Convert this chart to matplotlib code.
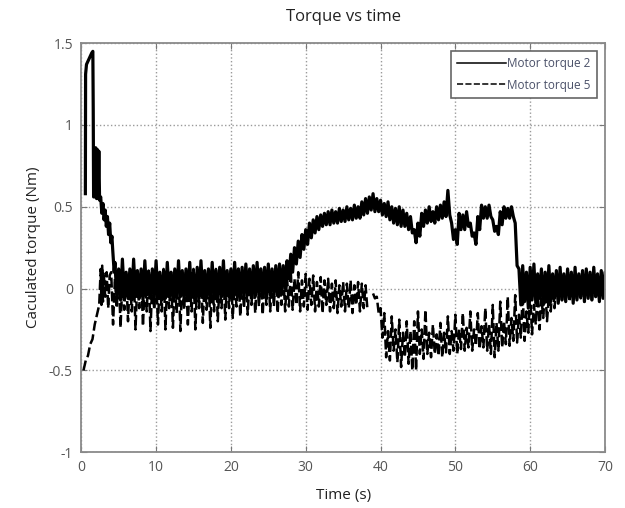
import numpy as np
import matplotlib
matplotlib.use("Agg")
import matplotlib.pyplot as plt

# Motor torque 2 (solid) -- start-up transient
t2_init = [0.55, 0.58, 0.70, 1.00, 1.40, 1.55, 1.60, 1.65,
           1.75, 1.85, 1.95, 2.05, 2.15, 2.25, 2.35, 2.45,
           2.60, 2.75, 2.90, 3.05, 3.20, 3.35, 3.50, 3.65,
           3.80, 3.95, 4.10, 4.20, 4.40]
y2_init = [0.58, 1.31, 1.37, 1.40, 1.44, 1.45, 1.10, 0.56,
           0.86, 0.56, 0.86, 0.55, 0.85, 0.55, 0.84, 0.54,
           0.56, 0.46, 0.52, 0.42, 0.48, 0.38, 0.44, 0.33,
           0.40, 0.28, 0.32, 0.24, 0.10]

# Motor torque 2 band, upper / lower peaks every 0.5 s from t = 4.5 s to 70 s
t2_start = 4.5
hi2 = [0.16, 0.12, 0.18, 0.10, 0.12, 0.18, 0.11, 0.12, 0.17, 0.10,   # 4.5 - 9.0
       0.12, 0.17, 0.10, 0.11, 0.16, 0.10, 0.12, 0.17, 0.11, 0.12,   # 9.5 - 14.0
       0.16, 0.10, 0.13, 0.17, 0.11, 0.12, 0.16, 0.11, 0.13, 0.17,   # 14.5 - 19.0
       0.11, 0.12, 0.16, 0.12, 0.13, 0.15, 0.12, 0.14, 0.16, 0.12,   # 19.5 - 24.0
       0.13, 0.15, 0.12, 0.14, 0.15, 0.14, 0.17, 0.21, 0.25, 0.29,   # 24.5 - 29.0
       0.33, 0.36, 0.40, 0.42, 0.44, 0.45, 0.46, 0.47, 0.48, 0.47,   # 29.5 - 34.0
       0.49, 0.48, 0.50, 0.49, 0.51, 0.50, 0.53, 0.55, 0.56, 0.58,   # 34.5 - 39.0
       0.55, 0.54, 0.52, 0.53, 0.50, 0.49, 0.50, 0.48, 0.46, 0.44,   # 39.5 - 44.0
       0.36, 0.40, 0.46, 0.48, 0.50, 0.47, 0.50, 0.51, 0.53, 0.60,   # 44.5 - 49.0
       0.40, 0.36, 0.46, 0.45, 0.47, 0.40, 0.34, 0.44, 0.51, 0.50,   # 49.5 - 54.0
       0.51, 0.42, 0.38, 0.47, 0.50, 0.49, 0.50, 0.40, 0.12, 0.14,   # 54.5 - 59.0
       0.10, 0.13, 0.15, 0.09, 0.12, 0.10, 0.14, 0.09, 0.11, 0.13,   # 59.5 - 64.0
       0.09, 0.12, 0.10, 0.13, 0.09, 0.11, 0.12, 0.10, 0.13, 0.09,   # 64.5 - 69.0
       0.11, 0.10]                                                   # 69.5 - 70.0
lo2 = [-0.05, -0.07, -0.04, -0.06, -0.07, -0.05, -0.06, -0.07, -0.04, -0.06,
       -0.06, -0.05, -0.07, -0.06, -0.04, -0.07, -0.06, -0.05, -0.07, -0.06,
       -0.05, -0.07, -0.06, -0.04, -0.06, -0.07, -0.05, -0.06, -0.05, -0.06,
       -0.05, -0.06, -0.04, -0.05, -0.06, -0.04, -0.05, -0.05, -0.04, -0.05,
       -0.05, -0.04, -0.04, -0.03, -0.02, 0.00, 0.06, 0.10, 0.15, 0.19,
       0.24, 0.27, 0.31, 0.34, 0.36, 0.38, 0.39, 0.39, 0.40, 0.40,
       0.41, 0.41, 0.42, 0.42, 0.43, 0.43, 0.45, 0.46, 0.48, 0.47,
       0.47, 0.45, 0.44, 0.42, 0.40, 0.39, 0.38, 0.38, 0.36, 0.34,
       0.28, 0.32, 0.38, 0.40, 0.41, 0.40, 0.42, 0.43, 0.44, 0.45,
       0.30, 0.27, 0.36, 0.36, 0.38, 0.32, 0.27, 0.36, 0.43, 0.43,
       0.44, 0.35, 0.33, 0.39, 0.43, 0.43, 0.44, 0.14, -0.10, -0.08,
       -0.12, -0.07, -0.09, -0.06, -0.10, -0.07, -0.08, -0.06, -0.09, -0.07,
       -0.08, -0.06, -0.09, -0.07, -0.05, -0.08, -0.06, -0.07, -0.05, -0.08,
       -0.06, -0.07]

# Motor torque 5 (dashed) -- start-up ramp
t5_init = [0.30, 0.60, 0.90, 1.20, 1.50, 1.80, 2.10, 2.40,
           2.60, 2.70, 2.80, 2.90, 3.00, 3.20, 3.40, 3.60, 3.80]
y5_init = [-0.50, -0.44, -0.41, -0.34, -0.31, -0.22, -0.16, -0.10,
           0.12, -0.10, 0.14, -0.08, 0.10, -0.05, 0.10, -0.12, 0.08]

# Motor torque 5 band, first part (4.0 s to 38.0 s), peaks every 0.5 s
t5a_start = 4.0
hi5a = [0.10, 0.06, 0.11, 0.05, 0.09, 0.07, 0.12, 0.05, 0.10, 0.06,   # 4.0 - 8.5
        0.11, 0.05, 0.09, 0.07, 0.12, 0.06, 0.10, 0.05, 0.11, 0.07,   # 9.0 - 13.5
        0.10, 0.06, 0.12, 0.05, 0.10, 0.07, 0.11, 0.06, 0.12, 0.05,   # 14.0 - 18.5
        0.10, 0.07, 0.11, 0.06, 0.12, 0.07, 0.10, 0.06, 0.11, 0.08,   # 19.0 - 23.5
        0.12, 0.07, 0.11, 0.08, 0.12, 0.06, 0.10, 0.07, 0.11, 0.06,   # 24.0 - 28.5
        0.10, 0.05, 0.09, 0.06, 0.08, 0.04, 0.07, 0.05, 0.06, 0.03,   # 29.0 - 33.5
        0.05, 0.02, 0.04, 0.03, 0.05, 0.02, 0.04, 0.03, 0.02]         # 34.0 - 38.0
lo5a = [-0.22, -0.12, -0.24, -0.13, -0.20, -0.14, -0.25, -0.12, -0.23, -0.14,
        -0.26, -0.13, -0.22, -0.14, -0.25, -0.12, -0.24, -0.15, -0.26, -0.13,
        -0.22, -0.14, -0.25, -0.12, -0.21, -0.13, -0.24, -0.14, -0.20, -0.12,
        -0.19, -0.12, -0.18, -0.11, -0.17, -0.12, -0.16, -0.10, -0.15, -0.11,
        -0.16, -0.10, -0.14, -0.11, -0.15, -0.10, -0.14, -0.11, -0.13, -0.10,
        -0.14, -0.11, -0.13, -0.10, -0.14, -0.11, -0.15, -0.10, -0.14, -0.12,
        -0.15, -0.11, -0.14, -0.12, -0.15, -0.10, -0.14, -0.12, -0.13]

# Motor torque 5 band, second part (39.0 s to 70.0 s)
t5b_start = 39.0
hi5b = [-0.03, -0.05, -0.12, -0.15, -0.26, -0.17, -0.25, -0.19, -0.27, -0.20,  # 39.0 - 43.5
        -0.26, -0.20, -0.14, -0.25, -0.13, -0.27, -0.22, -0.28, -0.21, -0.27,  # 44.0 - 48.5
        -0.17, -0.26, -0.16, -0.25, -0.15, -0.24, -0.14, -0.25, -0.15, -0.23,  # 49.0 - 53.5
        -0.12, -0.22, -0.10, -0.21, -0.08, -0.20, -0.05, -0.18, -0.04, -0.16,  # 54.0 - 58.5
        -0.03, -0.14, -0.02, -0.10, 0.00, -0.06, 0.02, -0.04, 0.04, 0.03,      # 59.0 - 63.5
        0.05, 0.04, 0.06, 0.03, 0.05, 0.04, 0.06, 0.03, 0.05, 0.04,            # 64.0 - 68.5
        0.05, 0.04, 0.05]                                                      # 69.0 - 70.0
lo5b = [-0.06, -0.15, -0.30, -0.42, -0.44, -0.38, -0.45, -0.48, -0.42, -0.46,
        -0.50, -0.50, -0.40, -0.43, -0.40, -0.42, -0.40, -0.41, -0.42, -0.39,
        -0.40, -0.38, -0.40, -0.37, -0.38, -0.36, -0.38, -0.35, -0.37, -0.36,
        -0.38, -0.40, -0.42, -0.38, -0.36, -0.34, -0.35, -0.32, -0.33, -0.30,
        -0.32, -0.27, -0.28, -0.22, -0.25, -0.18, -0.20, -0.14, -0.12, -0.08,
        -0.07, -0.06, -0.08, -0.05, -0.07, -0.06, -0.08, -0.05, -0.07, -0.06,
        -0.07, -0.05, -0.06]


def zigzag(t0, hi, lo):
    # upper peak at t, lower peak a quarter second later
    t, y = [], []
    for k in range(len(hi)):
        t += [t0 + 0.5 * k, t0 + 0.5 * k + 0.25]
        y += [hi[k], lo[k]]
    return t, y


tb2, yb2 = zigzag(t2_start, hi2, lo2)
t2 = t2_init + tb2
y2 = y2_init + yb2

ta5, ya5 = zigzag(t5a_start, hi5a, lo5a)
t5a = t5_init + ta5
y5a = y5_init + ya5
t5b, y5b = zigzag(t5b_start, hi5b, lo5b)

plt.rcParams['font.family'] = ['Open Sans', 'DejaVu Sans']

fig = plt.figure(figsize=(6.25, 5.08), dpi=100)
ax = fig.add_axes([0.13, 0.11, 0.838, 0.805])

ax.plot(t2, y2, '-', color='black', lw=2.3, label='Motor torque 2')
ax.plot(t5a, y5a, '--', color='black', lw=1.8, dashes=(4, 1.5), label='Motor torque 5')
ax.plot(t5b, y5b, '--', color='black', lw=1.8, dashes=(4, 1.5))

ax.set_xlim(0, 70)
ax.set_ylim(-1, 1.5)
ax.set_xticks(np.arange(0, 71, 10))
ax.set_yticks([-1, -0.5, 0, 0.5, 1, 1.5])
ax.set_yticklabels(['-1', '-0.5', '0', '0.5', '1', '1.5'])
ax.grid(True, linestyle=':', color='#9a9a9a', lw=1.0)
ax.tick_params(direction='in', top=True, right=True, colors='#777777',
               labelcolor='#555555', labelsize=10, length=4, pad=6)
for s in ax.spines.values():
    s.set_color('#8a8a8a')
    s.set_linewidth(1.3)

ax.set_title('Torque vs time', fontsize=12, color='#222222', pad=16)
ax.set_xlabel('Time (s)', fontsize=11, color='#222222', labelpad=9)
ax.set_ylabel('Caculated torque (Nm)', fontsize=11, color='#222222', labelpad=6)

leg = ax.legend(loc='upper right', fontsize=8.5, handlelength=4.2,
                handletextpad=0.1, borderaxespad=0.7, fancybox=False,
                framealpha=1, edgecolor='#666666', labelspacing=0.7,
                borderpad=0.5)
leg.get_frame().set_linewidth(1.2)
for line in leg.get_lines():
    line.set_linewidth(1.1)
for txt in leg.get_texts():
    txt.set_color('#4a5068')

fig.savefig('out.png', dpi=100)
